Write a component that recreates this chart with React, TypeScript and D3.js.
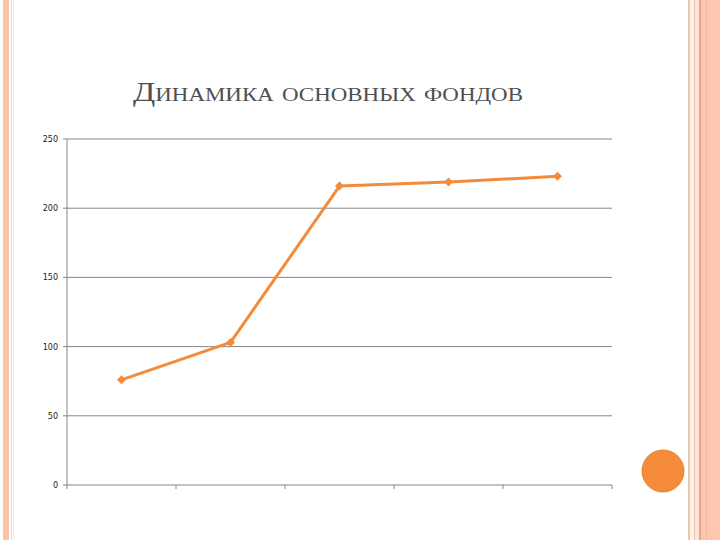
import React from "react";
import * as d3 from "d3";

const categories = ["1", "2", "3", "4", "5"];
const values = [76, 103, 216, 219, 223];
const yTicks = [0, 50, 100, 150, 200, 250];
const title = "Динамика основных фондов";

export default function App() {
  const W = 720, H = 540;
  const left = 67, right = 612, top = 139, bottom = 485;
  const x = d3.scaleBand<string>().domain(categories).range([left, right]).padding(0);
  const y = d3.scaleLinear().domain([0, 250]).range([bottom, top]);
  const line = d3.line<number>()
    .x((_, i) => (x(categories[i]) as number) + x.bandwidth() / 2)
    .y((d) => y(d));
  const boundaries = [...categories.map((c) => x(c) as number), right];
  const orange = "#F58A3A";
  return (
    <div style={{ position: "fixed", left: 0, top: 0, width: W, height: H, background: "#fff" }}>
      <svg width={W} height={H} style={{ display: "block" }}>
        <rect x={0} y={0} width={W} height={H} fill="#fff" />
        {/* left decorative border */}
        <rect x={3} y={0} width={6} height={H} fill="#FCC3A6" />
        <rect x={11} y={0} width={1} height={H} fill="#F3D9CC" />
        <rect x={13} y={0} width={1} height={H} fill="#FAEBD9" />
        {/* right decorative border */}
        <rect x={688} y={0} width={2} height={H} fill="#E7C9B4" />
        <rect x={690} y={0} width={4} height={H} fill="#FDF1E6" />
        <rect x={694} y={0} width={1} height={H} fill="#E9C6B1" />
        <rect x={695} y={0} width={4} height={H} fill="#FCE6DA" />
        <rect x={699} y={0} width={2} height={H} fill="#E6A88B" />
        <rect x={701} y={0} width={19} height={H} fill="#FDC6B0" />
        <rect x={706} y={0} width={1} height={H} fill="#F5B89E" />
        {/* orange circle */}
        <circle cx={663} cy={471} r={21} fill={orange} stroke="#E88230" strokeWidth={1} />
        {/* title */}
        <text x={133} y={101} textLength={390} lengthAdjust="spacingAndGlyphs"
          fontFamily="'Liberation Serif', 'Times New Roman', serif"
          fontSize={27} fill="#4F4F4F" style={{ fontVariant: "small-caps" }}>{title}</text>
        {/* grid lines */}
        {yTicks.map((t) => (
          <g key={t}>
            <line x1={left - 4} x2={right} y1={y(t)} y2={y(t)} stroke="#868686" strokeWidth={1} />
            <text x={left - 9} y={y(t) + 3} textAnchor="end" fontFamily="'DejaVu Sans', sans-serif"
              fontSize={8} fill="#222">{t}</text>
          </g>
        ))}
        {/* y axis */}
        <line x1={left} x2={left} y1={top} y2={bottom} stroke="#868686" strokeWidth={1} />
        {/* x ticks */}
        {boundaries.map((b, i) => (
          <line key={i} x1={b} x2={b} y1={bottom} y2={bottom + 4} stroke="#868686" strokeWidth={1} />
        ))}
        {/* series */}
        <path d={line(values) as string} fill="none" stroke={orange} strokeWidth={3} strokeLinejoin="round" />
        {values.map((v, i) => {
          const cx = (x(categories[i]) as number) + x.bandwidth() / 2;
          const cy = y(v);
          return (
            <path key={i} d={`M${cx},${cy - 4.5}L${cx + 4.5},${cy}L${cx},${cy + 4.5}L${cx - 4.5},${cy}Z`} fill={orange} />
          );
        })}
      </svg>
    </div>
  );
}
